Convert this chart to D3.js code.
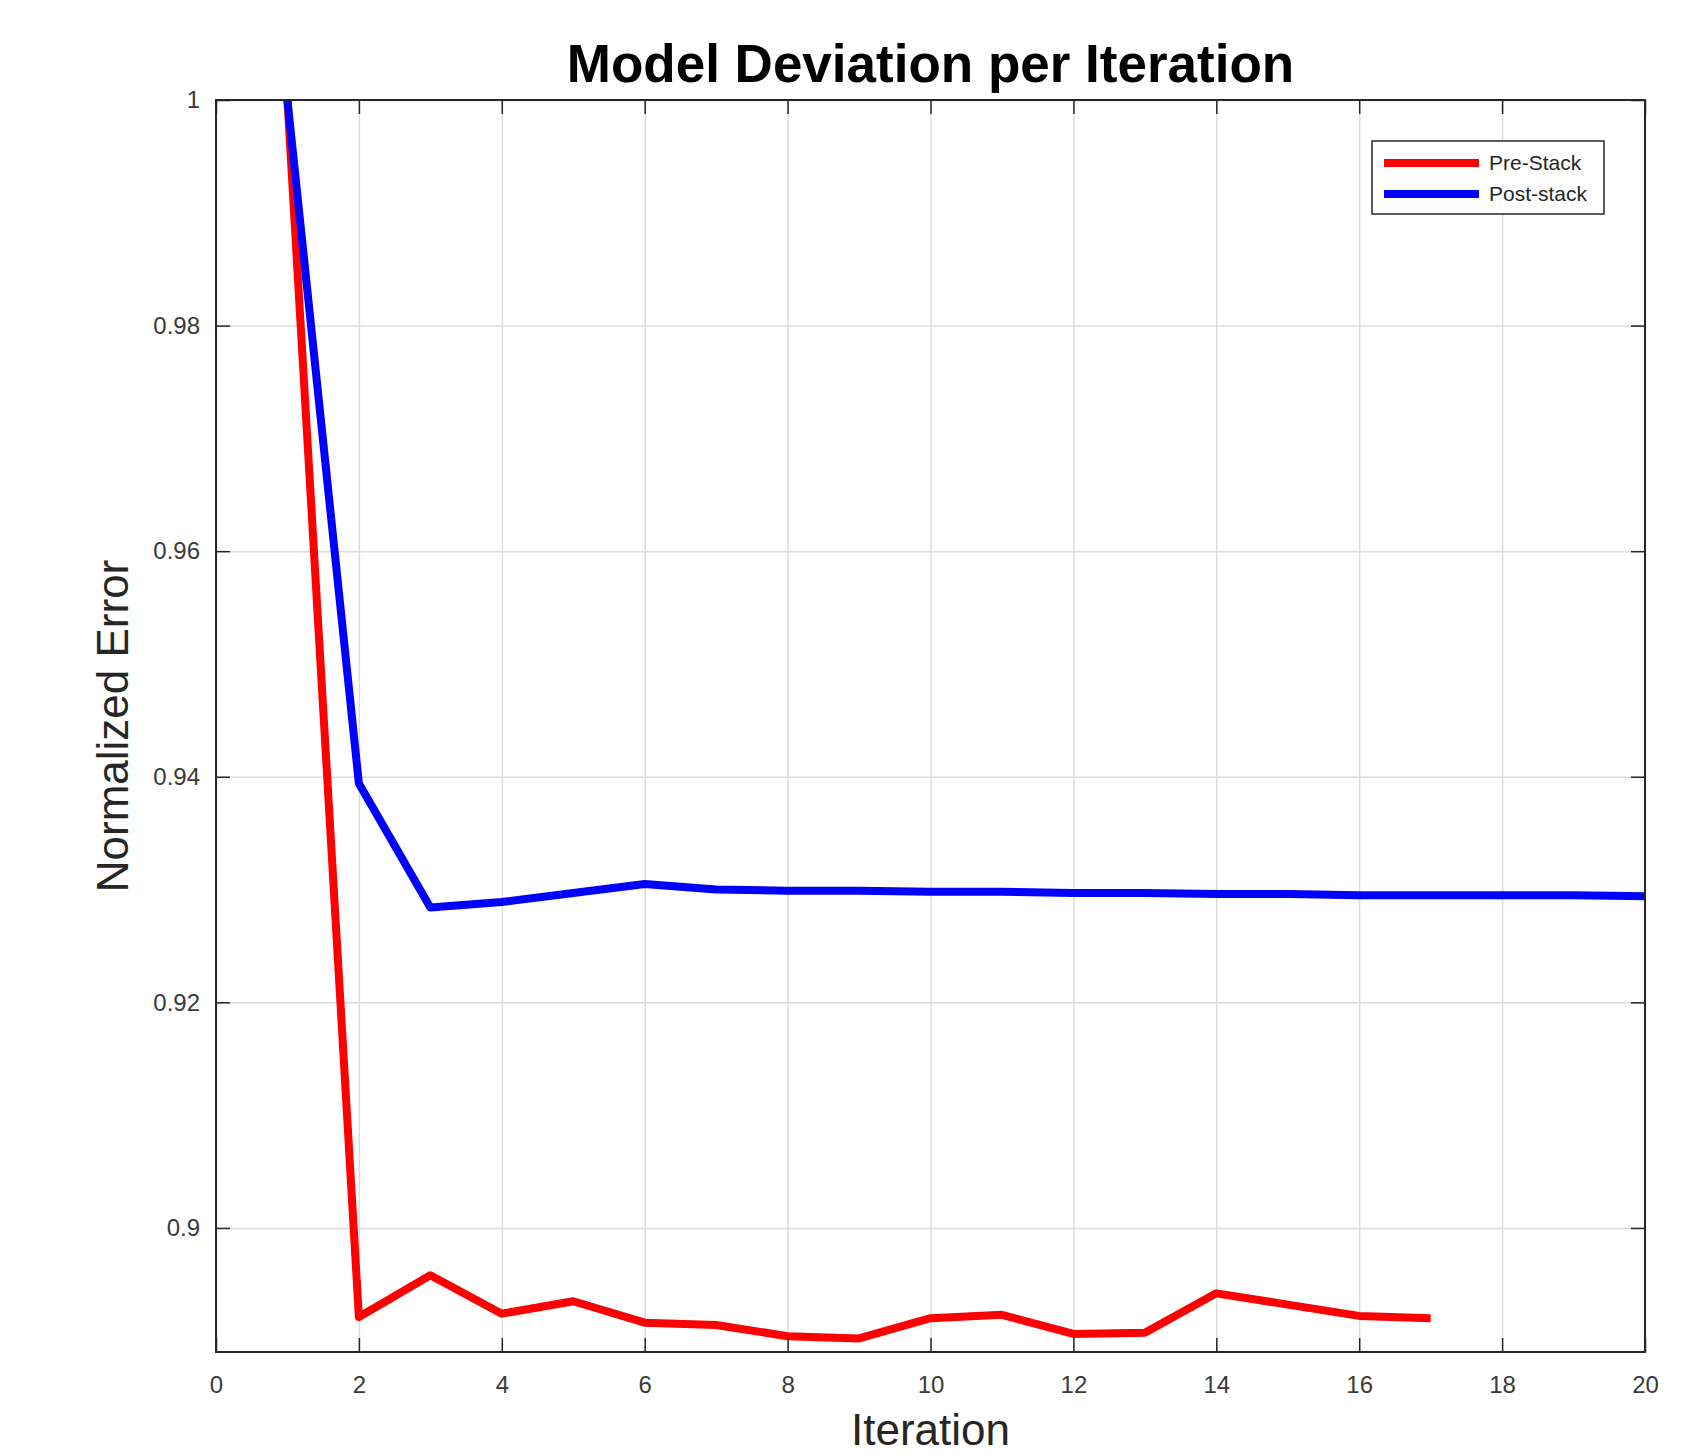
<!DOCTYPE html>
<html lang="en">
<head>
    <meta charset="UTF-8">
    <title>Model Deviation per Iteration</title>
    <script src="https://d3js.org/d3.v7.min.js"></script>
    <style>
        body { margin: 0; background-color: #ffffff; font-family: Arial, "Liberation Sans", sans-serif; }
        .tick text { fill: #3a3a3a; font-size: 24px; font-family: Arial, "Liberation Sans", sans-serif; }
        .grid line { stroke: #dcdcdc; stroke-width: 1.5px; }
        .grid path, .axis path { display: none; }
        .axis line { stroke: #262626; stroke-width: 1.5px; }
    </style>
</head>
<body>
    <div id="chart"></div>
    <script>
        // Data
        const preIter = [1, 2, 3, 4, 5, 6, 7, 8, 9, 10, 11, 12, 13, 14, 15, 16, 17];
        const preStack = [1.0, 0.8921, 0.8958, 0.8924, 0.8935, 0.8916, 0.8914, 0.8904, 0.8902,
                          0.8920, 0.8923, 0.8906, 0.8907, 0.8942, 0.8932, 0.8922, 0.8920];
        const postIter = [1, 2, 3, 4, 5, 6, 7, 8, 9, 10, 11, 12, 13, 14, 15, 16, 17, 18, 19, 20];
        const postStack = [1.0, 0.9394, 0.9284, 0.9289, 0.9297, 0.9305, 0.9300, 0.9299, 0.9299, 0.9298,
                           0.9298, 0.9297, 0.9297, 0.9296, 0.9296, 0.9295, 0.9295, 0.9295, 0.9295, 0.9294];
        const xTicks = [0, 2, 4, 6, 8, 10, 12, 14, 16, 18, 20];
        const yTicks = [0.9, 0.92, 0.94, 0.96, 0.98, 1];
        const seriesNames = ["Pre-Stack", "Post-stack"];
        const seriesColors = ["#ff0000", "#0000ff"];

        const width = 1685, height = 1456;
        const margin = { top: 100, right: 40, bottom: 104, left: 216 };
        const innerW = width - margin.left - margin.right;
        const innerH = height - margin.top - margin.bottom;

        const x = d3.scaleLinear().domain([0, 20]).range([0, innerW]);
        const y = d3.scaleLinear().domain([0.889, 1]).range([innerH, 0]);

        const svg = d3.select("#chart").append("svg")
            .attr("width", width)
            .attr("height", height);

        const g = svg.append("g")
            .attr("transform", `translate(${margin.left},${margin.top})`);

        // grid
        g.append("g").attr("class", "grid")
            .attr("transform", `translate(0,${innerH})`)
            .call(d3.axisBottom(x).tickValues(xTicks).tickSize(-innerH).tickFormat(""));
        g.append("g").attr("class", "grid")
            .call(d3.axisLeft(y).tickValues(yTicks).tickSize(-innerW).tickFormat(""));

        // clip for lines
        svg.append("defs").append("clipPath").attr("id", "plot-clip")
            .append("rect").attr("width", innerW).attr("height", innerH);

        const line = d3.line().x(d => x(d[0])).y(d => y(d[1]));
        const series = [
            d3.zip(preIter, preStack),
            d3.zip(postIter, postStack)
        ];

        g.append("g").attr("clip-path", "url(#plot-clip)")
            .selectAll("path")
            .data(series)
            .enter().append("path")
            .attr("d", line)
            .attr("fill", "none")
            .attr("stroke", (d, i) => seriesColors[i])
            .attr("stroke-width", 8)
            .attr("stroke-linejoin", "round");

        // axes, ticks pointing inward on all four sides
        g.append("g").attr("class", "axis")
            .attr("transform", `translate(0,${innerH})`)
            .call(d3.axisBottom(x).tickValues(xTicks).tickSize(-14).tickPadding(24).tickFormat(d3.format("d")));
        g.append("g").attr("class", "axis")
            .call(d3.axisTop(x).tickValues(xTicks).tickSize(-14).tickFormat(""));
        g.append("g").attr("class", "axis")
            .call(d3.axisLeft(y).tickValues(yTicks).tickSize(-14).tickPadding(16).tickFormat(d => String(+d.toFixed(2))));
        g.append("g").attr("class", "axis")
            .attr("transform", `translate(${innerW},0)`)
            .call(d3.axisRight(y).tickValues(yTicks).tickSize(-14).tickFormat(""));

        g.append("rect")
            .attr("width", innerW)
            .attr("height", innerH)
            .attr("fill", "none")
            .attr("stroke", "#262626")
            .attr("stroke-width", 2);

        // title and labels
        svg.append("text")
            .attr("x", margin.left + innerW / 2)
            .attr("y", 82)
            .attr("text-anchor", "middle")
            .style("font-size", "53px")
            .style("font-weight", "bold")
            .style("fill", "#000")
            .text("Model Deviation per Iteration");

        svg.append("text")
            .attr("x", margin.left + innerW / 2)
            .attr("y", 1445)
            .attr("text-anchor", "middle")
            .style("font-size", "44px")
            .style("fill", "#262626")
            .text("Iteration");

        svg.append("text")
            .attr("transform", `translate(128,${margin.top + innerH / 2}) rotate(-90)`)
            .attr("text-anchor", "middle")
            .style("font-size", "44px")
            .style("fill", "#262626")
            .text("Normalized Error");

        // legend
        const legend = svg.append("g").attr("transform", "translate(1372,141)");
        legend.append("rect")
            .attr("width", 232)
            .attr("height", 73)
            .attr("fill", "#fff")
            .attr("stroke", "#262626")
            .attr("stroke-width", 1.5);
        const items = legend.selectAll("g.item")
            .data(seriesNames)
            .enter().append("g")
            .attr("class", "item")
            .attr("transform", (d, i) => `translate(0,${22 + i * 31})`);
        items.append("line")
            .attr("x1", 12).attr("x2", 107)
            .attr("stroke", (d, i) => seriesColors[i])
            .attr("stroke-width", 8);
        items.append("text")
            .attr("x", 117)
            .attr("dy", "0.35em")
            .style("font-size", "21px")
            .style("fill", "#262626")
            .text(d => d);
    </script>
</body>
</html>
